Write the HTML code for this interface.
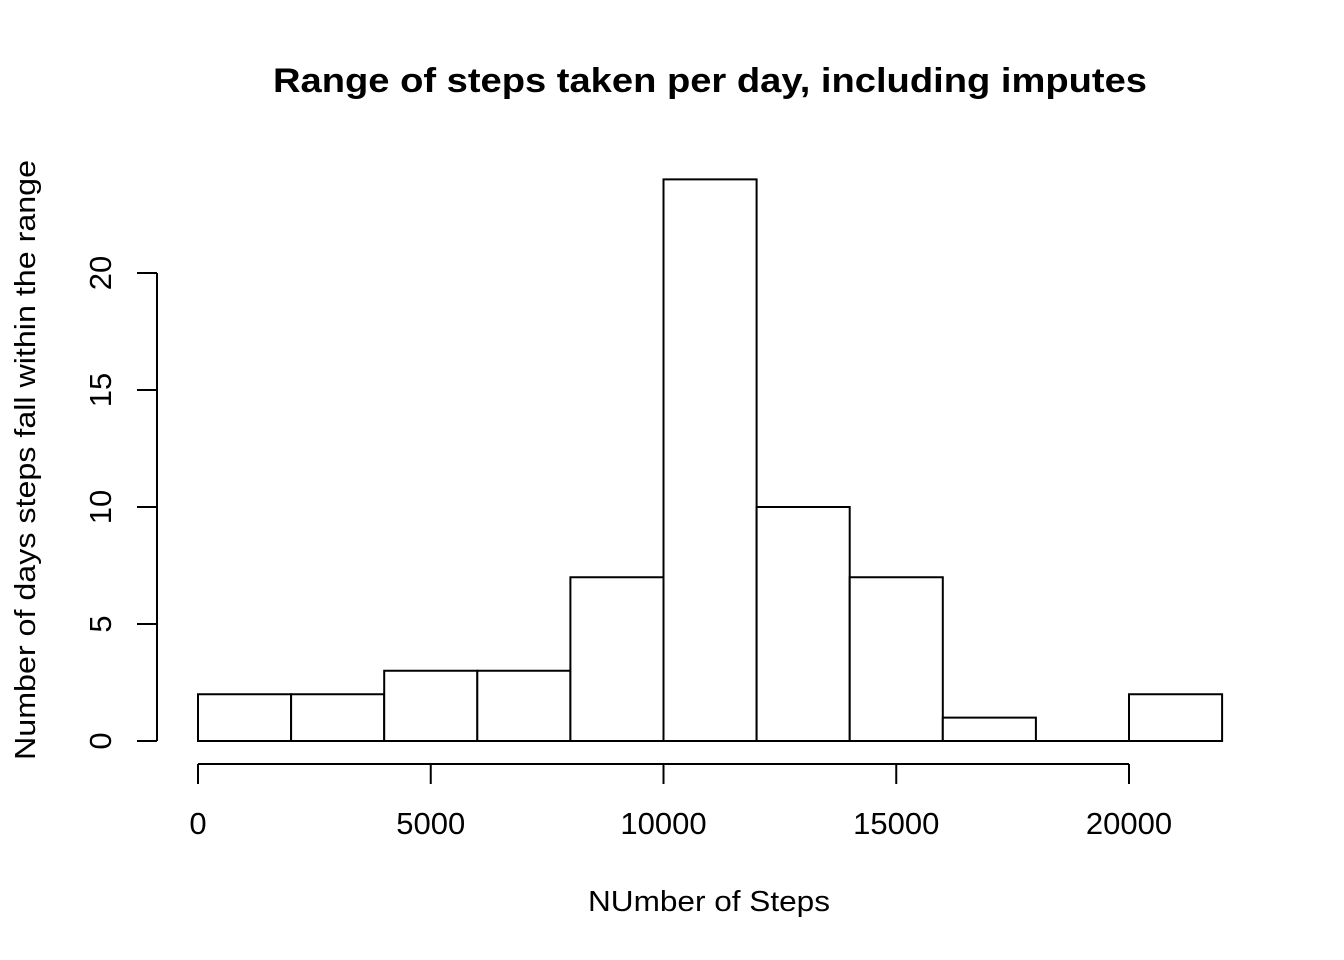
<!DOCTYPE html>
<html>
<head>
<meta charset="utf-8">
<style>
html,body{margin:0;padding:0;background:#fff;}
svg{display:block;font-family:"Liberation Sans",Arial,sans-serif;}
</style>
</head>
<body>
<svg id="chart" width="1344" height="960" viewBox="0 0 1344 960">
  <rect width="1344" height="960" fill="#fff"/>
  <text x="710" y="92" text-anchor="middle" font-size="34" font-weight="bold" textLength="874" lengthAdjust="spacingAndGlyphs">Range of steps taken per day, including imputes</text>
  <text x="709" y="911" text-anchor="middle" font-size="29" textLength="242" lengthAdjust="spacingAndGlyphs">NUmber of Steps</text>
  <text transform="translate(35,460) rotate(-90)" text-anchor="middle" font-size="29" textLength="600" lengthAdjust="spacingAndGlyphs">Number of days steps fall within the range</text>
  <g id="bars"></g>
  <g id="xaxis"></g>
  <g id="yaxis"></g>
</svg>
<script>
const binStarts = [0,2000,4000,6000,8000,10000,12000,14000,16000,18000,20000];
const binWidth = 2000;
const counts = [2,2,3,3,7,24,10,7,1,0,2];
const xTicks = [0,5000,10000,15000,20000];
const yTicks = [0,5,10,15,20];

const NS = "http://www.w3.org/2000/svg";
function xs(v){ return 198 + v * (931/20000); }
function ys(v){ return 741 - v * (468/20); }
function mk(tag, attrs, parent){
  const e = document.createElementNS(NS, tag);
  for (const k in attrs) e.setAttribute(k, attrs[k]);
  parent.appendChild(e);
  return e;
}
const bars = document.getElementById('bars');
binStarts.forEach((b,i)=>{
  const x0 = xs(b), x1 = xs(b+binWidth), y = ys(counts[i]), y0 = ys(0);
  const d = 'M'+x0+','+y0+' L'+x0+','+y+' L'+x1+','+y+' L'+x1+','+y0+' Z';
  const r = mk('path', {d:d, fill:'#fff', stroke:'#000', 'stroke-width':2}, bars);
  
  
});
const xa = document.getElementById('xaxis');
const xl = mk('line', {x1:xs(xTicks[0]), x2:xs(xTicks[xTicks.length-1]), y1:764, y2:764, stroke:'#000', 'stroke-width':2}, xa);


xTicks.forEach(t=>{
  const l = mk('line', {x1:xs(t), x2:xs(t), y1:764, y2:784, stroke:'#000', 'stroke-width':2}, xa);
  
  
  const tx = mk('text', {x:xs(t), y:834, 'text-anchor':'middle', 'font-size':31}, xa);
  tx.textContent = String(t);
  
  
});
const ya = document.getElementById('yaxis');
const yl = mk('line', {x1:157, x2:157, y1:ys(yTicks[0]), y2:ys(yTicks[yTicks.length-1]), stroke:'#000', 'stroke-width':2}, ya);


yTicks.forEach(t=>{
  const l = mk('line', {x1:137, x2:157, y1:ys(t), y2:ys(t), stroke:'#000', 'stroke-width':2}, ya);
  
  
  const tx = mk('text', {transform:'translate(111,'+ys(t)+') rotate(-90)', 'text-anchor':'middle', 'font-size':31}, ya);
  tx.textContent = String(t);
  
  
});
</script>
</body>
</html>
